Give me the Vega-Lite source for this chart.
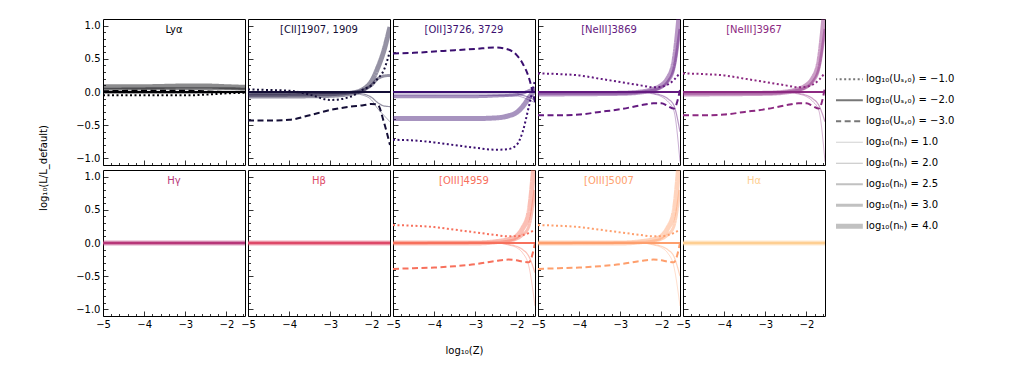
{
"$schema":"https://vega.github.io/schema/vega-lite/v6.json",
"padding":{"left":38,"top":18,"right":5,"bottom":5},
"bounds":"flush",
"columns":5,
"spacing":{"row":5,"column":3},
"config":{
"view":{"stroke":"black","strokeWidth":1},
"axis":{"domain":false,"grid":false,"tickColor":"black","tickWidth":0.8,"labelColor":"black","labelFont":"DejaVu Sans","labelFontSize":10,"titleFont":"DejaVu Sans","titleFontSize":10,"titleFontWeight":"normal","titleColor":"black"},
"axisX":{"labelOverlap":false,"labelFlush":false},
"axisY":{"labelOverlap":false},
"title":{"font":"DejaVu Sans","fontSize":10,"fontWeight":"normal","offset":-16},
"legend":{"orient":"none","legendX":733,"legendY":50,"symbolType":"M-1.35,0H1.35","symbolSize":420,"labelFontSize":10,"labelFont":"DejaVu Sans","labelColor":"black","rowPadding":0,"clipHeight":20.5,"symbolStrokeColor":"#777","labelLimit":250,"padding":0}
},
"datasets":{"d":[
{"p":"Lya","s":"U-2","x":-5,"y":0},{"p":"Lya","s":"U-2","x":-1.55,"y":0},
{"p":"Lya","s":"U-1","x":-5,"y":-0.05},{"p":"Lya","s":"U-1","x":-4,"y":-0.05},{"p":"Lya","s":"U-1","x":-3,"y":-0.05},{"p":"Lya","s":"U-1","x":-2.5,"y":-0.04},{"p":"Lya","s":"U-1","x":-2,"y":-0.02},{"p":"Lya","s":"U-1","x":-1.55,"y":-0.01},
{"p":"Lya","s":"U-3","x":-5,"y":0.01},{"p":"Lya","s":"U-3","x":-4,"y":0.02},{"p":"Lya","s":"U-3","x":-3,"y":0.02},{"p":"Lya","s":"U-3","x":-2.5,"y":0.01},{"p":"Lya","s":"U-3","x":-2,"y":0},{"p":"Lya","s":"U-3","x":-1.55,"y":0},
{"p":"Lya","s":"n1","x":-5,"y":-0.02},{"p":"Lya","s":"n1","x":-3,"y":-0.02},{"p":"Lya","s":"n1","x":-1.55,"y":-0.01},
{"p":"Lya","s":"n2","x":-5,"y":-0.01},{"p":"Lya","s":"n2","x":-3,"y":-0.01},{"p":"Lya","s":"n2","x":-1.55,"y":0},
{"p":"Lya","s":"n2.5","x":-5,"y":0},{"p":"Lya","s":"n2.5","x":-1.55,"y":0},
{"p":"Lya","s":"n3","x":-5,"y":0.04},{"p":"Lya","s":"n3","x":-3,"y":0.05},{"p":"Lya","s":"n3","x":-2,"y":0.05},{"p":"Lya","s":"n3","x":-1.55,"y":0.04},
{"p":"Lya","s":"n4","x":-5,"y":0.08},{"p":"Lya","s":"n4","x":-4,"y":0.08},{"p":"Lya","s":"n4","x":-3,"y":0.09},{"p":"Lya","s":"n4","x":-2.5,"y":0.09},{"p":"Lya","s":"n4","x":-2,"y":0.08},{"p":"Lya","s":"n4","x":-1.55,"y":0.07},

{"p":"CII","s":"U-2","x":-5,"y":0},{"p":"CII","s":"U-2","x":-1.55,"y":0},
{"p":"CII","s":"U-1","x":-5,"y":0.04},{"p":"CII","s":"U-1","x":-4.5,"y":0.03},{"p":"CII","s":"U-1","x":-4,"y":0.02},{"p":"CII","s":"U-1","x":-3.5,"y":-0.04},{"p":"CII","s":"U-1","x":-3,"y":-0.12},{"p":"CII","s":"U-1","x":-2.5,"y":-0.07},{"p":"CII","s":"U-1","x":-2.2,"y":0.04},{"p":"CII","s":"U-1","x":-2,"y":0.1},{"p":"CII","s":"U-1","x":-1.85,"y":0.2},{"p":"CII","s":"U-1","x":-1.7,"y":0.33},{"p":"CII","s":"U-1","x":-1.55,"y":0.62},
{"p":"CII","s":"U-3","x":-5,"y":-0.43},{"p":"CII","s":"U-3","x":-4.5,"y":-0.43},{"p":"CII","s":"U-3","x":-4,"y":-0.42},{"p":"CII","s":"U-3","x":-3.5,"y":-0.35},{"p":"CII","s":"U-3","x":-3,"y":-0.27},{"p":"CII","s":"U-3","x":-2.5,"y":-0.22},{"p":"CII","s":"U-3","x":-2.2,"y":-0.2},{"p":"CII","s":"U-3","x":-2,"y":-0.18},{"p":"CII","s":"U-3","x":-1.85,"y":-0.19},{"p":"CII","s":"U-3","x":-1.7,"y":-0.45},{"p":"CII","s":"U-3","x":-1.55,"y":-0.8},
{"p":"CII","s":"n4","x":-5,"y":-0.06},{"p":"CII","s":"n4","x":-4,"y":-0.06},{"p":"CII","s":"n4","x":-3,"y":-0.05},{"p":"CII","s":"n4","x":-2.5,"y":-0.02},{"p":"CII","s":"n4","x":-2.2,"y":0.04},{"p":"CII","s":"n4","x":-2,"y":0.16},{"p":"CII","s":"n4","x":-1.85,"y":0.36},{"p":"CII","s":"n4","x":-1.7,"y":0.62},{"p":"CII","s":"n4","x":-1.55,"y":0.98},
{"p":"CII","s":"n3","x":-5,"y":-0.05},{"p":"CII","s":"n3","x":-3,"y":-0.04},{"p":"CII","s":"n3","x":-2.5,"y":-0.01},{"p":"CII","s":"n3","x":-2.2,"y":0.03},{"p":"CII","s":"n3","x":-2,"y":0.1},{"p":"CII","s":"n3","x":-1.85,"y":0.2},{"p":"CII","s":"n3","x":-1.7,"y":0.24},{"p":"CII","s":"n3","x":-1.55,"y":0.25},
{"p":"CII","s":"n2.5","x":-5,"y":0},{"p":"CII","s":"n2.5","x":-1.55,"y":0},
{"p":"CII","s":"n2","x":-5,"y":-0.03},{"p":"CII","s":"n2","x":-3,"y":-0.02},{"p":"CII","s":"n2","x":-2.5,"y":-0.01},{"p":"CII","s":"n2","x":-2.2,"y":-0.03},{"p":"CII","s":"n2","x":-2,"y":-0.08},{"p":"CII","s":"n2","x":-1.85,"y":-0.16},{"p":"CII","s":"n2","x":-1.7,"y":-0.21},{"p":"CII","s":"n2","x":-1.55,"y":-0.22},
{"p":"CII","s":"n1","x":-5,"y":-0.02},{"p":"CII","s":"n1","x":-3,"y":-0.02},{"p":"CII","s":"n1","x":-2.5,"y":-0.02},{"p":"CII","s":"n1","x":-2.2,"y":-0.05},{"p":"CII","s":"n1","x":-2,"y":-0.12},{"p":"CII","s":"n1","x":-1.85,"y":-0.25},{"p":"CII","s":"n1","x":-1.7,"y":-0.35},{"p":"CII","s":"n1","x":-1.55,"y":-0.45},

{"p":"OII","s":"U-2","x":-5,"y":0},{"p":"OII","s":"U-2","x":-1.55,"y":0},
{"p":"OII","s":"U-3","x":-5,"y":0.58},{"p":"OII","s":"U-3","x":-4.5,"y":0.59},{"p":"OII","s":"U-3","x":-4,"y":0.61},{"p":"OII","s":"U-3","x":-3.5,"y":0.63},{"p":"OII","s":"U-3","x":-3,"y":0.65},{"p":"OII","s":"U-3","x":-2.5,"y":0.67},{"p":"OII","s":"U-3","x":-2.2,"y":0.64},{"p":"OII","s":"U-3","x":-2,"y":0.56},{"p":"OII","s":"U-3","x":-1.85,"y":0.43},{"p":"OII","s":"U-3","x":-1.7,"y":0.22},{"p":"OII","s":"U-3","x":-1.55,"y":-0.15},
{"p":"OII","s":"U-1","x":-5,"y":-0.72},{"p":"OII","s":"U-1","x":-4.5,"y":-0.73},{"p":"OII","s":"U-1","x":-4,"y":-0.76},{"p":"OII","s":"U-1","x":-3.5,"y":-0.8},{"p":"OII","s":"U-1","x":-3,"y":-0.84},{"p":"OII","s":"U-1","x":-2.5,"y":-0.87},{"p":"OII","s":"U-1","x":-2.2,"y":-0.86},{"p":"OII","s":"U-1","x":-2,"y":-0.8},{"p":"OII","s":"U-1","x":-1.85,"y":-0.6},{"p":"OII","s":"U-1","x":-1.7,"y":-0.22},{"p":"OII","s":"U-1","x":-1.55,"y":0.18},
{"p":"OII","s":"n4","x":-5,"y":-0.4},{"p":"OII","s":"n4","x":-3,"y":-0.4},{"p":"OII","s":"n4","x":-2.5,"y":-0.39},{"p":"OII","s":"n4","x":-2.2,"y":-0.36},{"p":"OII","s":"n4","x":-2,"y":-0.31},{"p":"OII","s":"n4","x":-1.85,"y":-0.22},{"p":"OII","s":"n4","x":-1.7,"y":-0.09},{"p":"OII","s":"n4","x":-1.55,"y":0.03},
{"p":"OII","s":"n3","x":-5,"y":-0.07},{"p":"OII","s":"n3","x":-3,"y":-0.07},{"p":"OII","s":"n3","x":-2.5,"y":-0.06},{"p":"OII","s":"n3","x":-2,"y":-0.04},{"p":"OII","s":"n3","x":-1.85,"y":-0.02},{"p":"OII","s":"n3","x":-1.7,"y":0.02},{"p":"OII","s":"n3","x":-1.55,"y":0.05},
{"p":"OII","s":"n2.5","x":-5,"y":0},{"p":"OII","s":"n2.5","x":-1.55,"y":0},
{"p":"OII","s":"n2","x":-5,"y":-0.03},{"p":"OII","s":"n2","x":-3,"y":-0.03},{"p":"OII","s":"n2","x":-2,"y":-0.03},{"p":"OII","s":"n2","x":-1.85,"y":-0.05},{"p":"OII","s":"n2","x":-1.7,"y":-0.08},{"p":"OII","s":"n2","x":-1.55,"y":-0.12},
{"p":"OII","s":"n1","x":-5,"y":-0.05},{"p":"OII","s":"n1","x":-3,"y":-0.05},{"p":"OII","s":"n1","x":-2,"y":-0.06},{"p":"OII","s":"n1","x":-1.85,"y":-0.08},{"p":"OII","s":"n1","x":-1.7,"y":-0.12},{"p":"OII","s":"n1","x":-1.55,"y":-0.16},

{"p":"Ne1","s":"U-2","x":-5,"y":0},{"p":"Ne1","s":"U-2","x":-1.55,"y":0},
{"p":"Ne1","s":"U-1","x":-5,"y":0.28},{"p":"Ne1","s":"U-1","x":-4.5,"y":0.27},{"p":"Ne1","s":"U-1","x":-4,"y":0.25},{"p":"Ne1","s":"U-1","x":-3.5,"y":0.2},{"p":"Ne1","s":"U-1","x":-3,"y":0.15},{"p":"Ne1","s":"U-1","x":-2.5,"y":0.1},{"p":"Ne1","s":"U-1","x":-2.2,"y":0.07},{"p":"Ne1","s":"U-1","x":-2,"y":0.08},{"p":"Ne1","s":"U-1","x":-1.85,"y":0.11},{"p":"Ne1","s":"U-1","x":-1.7,"y":0.18},{"p":"Ne1","s":"U-1","x":-1.55,"y":0.29},
{"p":"Ne1","s":"U-3","x":-5,"y":-0.35},{"p":"Ne1","s":"U-3","x":-4.5,"y":-0.35},{"p":"Ne1","s":"U-3","x":-4,"y":-0.34},{"p":"Ne1","s":"U-3","x":-3.5,"y":-0.3},{"p":"Ne1","s":"U-3","x":-3,"y":-0.26},{"p":"Ne1","s":"U-3","x":-2.5,"y":-0.2},{"p":"Ne1","s":"U-3","x":-2.2,"y":-0.17},{"p":"Ne1","s":"U-3","x":-2,"y":-0.17},{"p":"Ne1","s":"U-3","x":-1.85,"y":-0.21},{"p":"Ne1","s":"U-3","x":-1.7,"y":-0.25},{"p":"Ne1","s":"U-3","x":-1.55,"y":0.03},
{"p":"Ne1","s":"n4","x":-5,"y":-0.03},{"p":"Ne1","s":"n4","x":-3,"y":-0.02},{"p":"Ne1","s":"n4","x":-2.5,"y":0},{"p":"Ne1","s":"n4","x":-2.2,"y":0.04},{"p":"Ne1","s":"n4","x":-2,"y":0.1},{"p":"Ne1","s":"n4","x":-1.85,"y":0.2},{"p":"Ne1","s":"n4","x":-1.7,"y":0.45},{"p":"Ne1","s":"n4","x":-1.55,"y":1.3},
{"p":"Ne1","s":"n3","x":-5,"y":-0.02},{"p":"Ne1","s":"n3","x":-3,"y":-0.02},{"p":"Ne1","s":"n3","x":-2.5,"y":0},{"p":"Ne1","s":"n3","x":-2.2,"y":0.03},{"p":"Ne1","s":"n3","x":-2,"y":0.07},{"p":"Ne1","s":"n3","x":-1.85,"y":0.15},{"p":"Ne1","s":"n3","x":-1.7,"y":0.35},{"p":"Ne1","s":"n3","x":-1.55,"y":0.95},
{"p":"Ne1","s":"n2.5","x":-5,"y":0},{"p":"Ne1","s":"n2.5","x":-1.55,"y":0},
{"p":"Ne1","s":"n2","x":-5,"y":0},{"p":"Ne1","s":"n2","x":-2.5,"y":0},{"p":"Ne1","s":"n2","x":-2.2,"y":-0.02},{"p":"Ne1","s":"n2","x":-2,"y":-0.05},{"p":"Ne1","s":"n2","x":-1.85,"y":-0.1},{"p":"Ne1","s":"n2","x":-1.7,"y":-0.2},{"p":"Ne1","s":"n2","x":-1.55,"y":-0.6},
{"p":"Ne1","s":"n1","x":-5,"y":0},{"p":"Ne1","s":"n1","x":-2.5,"y":-0.01},{"p":"Ne1","s":"n1","x":-2.2,"y":-0.03},{"p":"Ne1","s":"n1","x":-2,"y":-0.07},{"p":"Ne1","s":"n1","x":-1.85,"y":-0.14},{"p":"Ne1","s":"n1","x":-1.7,"y":-0.28},{"p":"Ne1","s":"n1","x":-1.55,"y":-1.05},

{"p":"Ne2","s":"U-2","x":-5,"y":0},{"p":"Ne2","s":"U-2","x":-1.55,"y":0},
{"p":"Ne2","s":"U-1","x":-5,"y":0.28},{"p":"Ne2","s":"U-1","x":-4.5,"y":0.27},{"p":"Ne2","s":"U-1","x":-4,"y":0.25},{"p":"Ne2","s":"U-1","x":-3.5,"y":0.2},{"p":"Ne2","s":"U-1","x":-3,"y":0.15},{"p":"Ne2","s":"U-1","x":-2.5,"y":0.1},{"p":"Ne2","s":"U-1","x":-2.2,"y":0.07},{"p":"Ne2","s":"U-1","x":-2,"y":0.08},{"p":"Ne2","s":"U-1","x":-1.85,"y":0.11},{"p":"Ne2","s":"U-1","x":-1.7,"y":0.18},{"p":"Ne2","s":"U-1","x":-1.55,"y":0.29},
{"p":"Ne2","s":"U-3","x":-5,"y":-0.35},{"p":"Ne2","s":"U-3","x":-4.5,"y":-0.35},{"p":"Ne2","s":"U-3","x":-4,"y":-0.34},{"p":"Ne2","s":"U-3","x":-3.5,"y":-0.3},{"p":"Ne2","s":"U-3","x":-3,"y":-0.26},{"p":"Ne2","s":"U-3","x":-2.5,"y":-0.2},{"p":"Ne2","s":"U-3","x":-2.2,"y":-0.17},{"p":"Ne2","s":"U-3","x":-2,"y":-0.17},{"p":"Ne2","s":"U-3","x":-1.85,"y":-0.21},{"p":"Ne2","s":"U-3","x":-1.7,"y":-0.25},{"p":"Ne2","s":"U-3","x":-1.55,"y":0.07},
{"p":"Ne2","s":"n4","x":-5,"y":-0.03},{"p":"Ne2","s":"n4","x":-3,"y":-0.02},{"p":"Ne2","s":"n4","x":-2.5,"y":0},{"p":"Ne2","s":"n4","x":-2.2,"y":0.04},{"p":"Ne2","s":"n4","x":-2,"y":0.1},{"p":"Ne2","s":"n4","x":-1.85,"y":0.2},{"p":"Ne2","s":"n4","x":-1.7,"y":0.45},{"p":"Ne2","s":"n4","x":-1.55,"y":1.3},
{"p":"Ne2","s":"n3","x":-5,"y":-0.02},{"p":"Ne2","s":"n3","x":-3,"y":-0.02},{"p":"Ne2","s":"n3","x":-2.5,"y":0},{"p":"Ne2","s":"n3","x":-2.2,"y":0.03},{"p":"Ne2","s":"n3","x":-2,"y":0.07},{"p":"Ne2","s":"n3","x":-1.85,"y":0.15},{"p":"Ne2","s":"n3","x":-1.7,"y":0.35},{"p":"Ne2","s":"n3","x":-1.55,"y":0.95},
{"p":"Ne2","s":"n2.5","x":-5,"y":0},{"p":"Ne2","s":"n2.5","x":-1.55,"y":0},
{"p":"Ne2","s":"n2","x":-5,"y":0},{"p":"Ne2","s":"n2","x":-2.5,"y":0},{"p":"Ne2","s":"n2","x":-2.2,"y":-0.02},{"p":"Ne2","s":"n2","x":-2,"y":-0.05},{"p":"Ne2","s":"n2","x":-1.85,"y":-0.1},{"p":"Ne2","s":"n2","x":-1.7,"y":-0.2},{"p":"Ne2","s":"n2","x":-1.55,"y":-0.45},
{"p":"Ne2","s":"n1","x":-5,"y":0},{"p":"Ne2","s":"n1","x":-2.5,"y":-0.01},{"p":"Ne2","s":"n1","x":-2.2,"y":-0.03},{"p":"Ne2","s":"n1","x":-2,"y":-0.07},{"p":"Ne2","s":"n1","x":-1.85,"y":-0.14},{"p":"Ne2","s":"n1","x":-1.7,"y":-0.28},{"p":"Ne2","s":"n1","x":-1.55,"y":-1.05},

{"p":"Hg","s":"U-1","x":-5,"y":0},{"p":"Hg","s":"U-1","x":-1.55,"y":0},{"p":"Hg","s":"U-2","x":-5,"y":0},{"p":"Hg","s":"U-2","x":-1.55,"y":0},{"p":"Hg","s":"U-3","x":-5,"y":0},{"p":"Hg","s":"U-3","x":-1.55,"y":0},
{"p":"Hg","s":"n1","x":-5,"y":0},{"p":"Hg","s":"n1","x":-1.55,"y":0},{"p":"Hg","s":"n2","x":-5,"y":0},{"p":"Hg","s":"n2","x":-1.55,"y":0},{"p":"Hg","s":"n2.5","x":-5,"y":0},{"p":"Hg","s":"n2.5","x":-1.55,"y":0},{"p":"Hg","s":"n3","x":-5,"y":0},{"p":"Hg","s":"n3","x":-1.55,"y":0},{"p":"Hg","s":"n4","x":-5,"y":0},{"p":"Hg","s":"n4","x":-1.55,"y":0},

{"p":"Hb","s":"U-1","x":-5,"y":0},{"p":"Hb","s":"U-1","x":-1.55,"y":0},{"p":"Hb","s":"U-2","x":-5,"y":0},{"p":"Hb","s":"U-2","x":-1.55,"y":0},{"p":"Hb","s":"U-3","x":-5,"y":0},{"p":"Hb","s":"U-3","x":-1.55,"y":0},
{"p":"Hb","s":"n1","x":-5,"y":0},{"p":"Hb","s":"n1","x":-1.55,"y":0},{"p":"Hb","s":"n2","x":-5,"y":0},{"p":"Hb","s":"n2","x":-1.55,"y":0},{"p":"Hb","s":"n2.5","x":-5,"y":0},{"p":"Hb","s":"n2.5","x":-1.55,"y":0},{"p":"Hb","s":"n3","x":-5,"y":0},{"p":"Hb","s":"n3","x":-1.55,"y":0},{"p":"Hb","s":"n4","x":-5,"y":0},{"p":"Hb","s":"n4","x":-1.55,"y":0},

{"p":"O1","s":"U-2","x":-5,"y":0},{"p":"O1","s":"U-2","x":-1.55,"y":0},
{"p":"O1","s":"U-1","x":-5,"y":0.27},{"p":"O1","s":"U-1","x":-4.5,"y":0.26},{"p":"O1","s":"U-1","x":-4,"y":0.24},{"p":"O1","s":"U-1","x":-3.5,"y":0.2},{"p":"O1","s":"U-1","x":-3,"y":0.16},{"p":"O1","s":"U-1","x":-2.5,"y":0.12},{"p":"O1","s":"U-1","x":-2.2,"y":0.1},{"p":"O1","s":"U-1","x":-2,"y":0.1},{"p":"O1","s":"U-1","x":-1.85,"y":0.12},{"p":"O1","s":"U-1","x":-1.7,"y":0.15},{"p":"O1","s":"U-1","x":-1.55,"y":0.2},
{"p":"O1","s":"U-3","x":-5,"y":-0.39},{"p":"O1","s":"U-3","x":-4.5,"y":-0.38},{"p":"O1","s":"U-3","x":-4,"y":-0.37},{"p":"O1","s":"U-3","x":-3.5,"y":-0.35},{"p":"O1","s":"U-3","x":-3,"y":-0.32},{"p":"O1","s":"U-3","x":-2.5,"y":-0.27},{"p":"O1","s":"U-3","x":-2.2,"y":-0.25},{"p":"O1","s":"U-3","x":-2,"y":-0.26},{"p":"O1","s":"U-3","x":-1.85,"y":-0.28},{"p":"O1","s":"U-3","x":-1.7,"y":-0.29},{"p":"O1","s":"U-3","x":-1.55,"y":0},
{"p":"O1","s":"n4","x":-5,"y":0},{"p":"O1","s":"n4","x":-3,"y":0},{"p":"O1","s":"n4","x":-2.5,"y":0.02},{"p":"O1","s":"n4","x":-2.2,"y":0.05},{"p":"O1","s":"n4","x":-2,"y":0.1},{"p":"O1","s":"n4","x":-1.85,"y":0.22},{"p":"O1","s":"n4","x":-1.7,"y":0.45},{"p":"O1","s":"n4","x":-1.55,"y":1.4},
{"p":"O1","s":"n3","x":-5,"y":0},{"p":"O1","s":"n3","x":-2.5,"y":0.01},{"p":"O1","s":"n3","x":-2.2,"y":0.03},{"p":"O1","s":"n3","x":-2,"y":0.06},{"p":"O1","s":"n3","x":-1.85,"y":0.12},{"p":"O1","s":"n3","x":-1.7,"y":0.25},{"p":"O1","s":"n3","x":-1.55,"y":0.8},
{"p":"O1","s":"n2.5","x":-5,"y":0},{"p":"O1","s":"n2.5","x":-1.55,"y":0},
{"p":"O1","s":"n2","x":-5,"y":0},{"p":"O1","s":"n2","x":-2.5,"y":0},{"p":"O1","s":"n2","x":-2.2,"y":-0.02},{"p":"O1","s":"n2","x":-2,"y":-0.05},{"p":"O1","s":"n2","x":-1.85,"y":-0.1},{"p":"O1","s":"n2","x":-1.7,"y":-0.2},{"p":"O1","s":"n2","x":-1.55,"y":-0.45},
{"p":"O1","s":"n1","x":-5,"y":0},{"p":"O1","s":"n1","x":-2.5,"y":0},{"p":"O1","s":"n1","x":-2.2,"y":-0.03},{"p":"O1","s":"n1","x":-2,"y":-0.07},{"p":"O1","s":"n1","x":-1.85,"y":-0.15},{"p":"O1","s":"n1","x":-1.7,"y":-0.35},{"p":"O1","s":"n1","x":-1.55,"y":-0.95},

{"p":"O2","s":"U-2","x":-5,"y":0},{"p":"O2","s":"U-2","x":-1.55,"y":0},
{"p":"O2","s":"U-1","x":-5,"y":0.27},{"p":"O2","s":"U-1","x":-4.5,"y":0.26},{"p":"O2","s":"U-1","x":-4,"y":0.24},{"p":"O2","s":"U-1","x":-3.5,"y":0.2},{"p":"O2","s":"U-1","x":-3,"y":0.16},{"p":"O2","s":"U-1","x":-2.5,"y":0.12},{"p":"O2","s":"U-1","x":-2.2,"y":0.1},{"p":"O2","s":"U-1","x":-2,"y":0.1},{"p":"O2","s":"U-1","x":-1.85,"y":0.12},{"p":"O2","s":"U-1","x":-1.7,"y":0.15},{"p":"O2","s":"U-1","x":-1.55,"y":0.2},
{"p":"O2","s":"U-3","x":-5,"y":-0.39},{"p":"O2","s":"U-3","x":-4.5,"y":-0.38},{"p":"O2","s":"U-3","x":-4,"y":-0.37},{"p":"O2","s":"U-3","x":-3.5,"y":-0.35},{"p":"O2","s":"U-3","x":-3,"y":-0.32},{"p":"O2","s":"U-3","x":-2.5,"y":-0.27},{"p":"O2","s":"U-3","x":-2.2,"y":-0.25},{"p":"O2","s":"U-3","x":-2,"y":-0.26},{"p":"O2","s":"U-3","x":-1.85,"y":-0.28},{"p":"O2","s":"U-3","x":-1.7,"y":-0.29},{"p":"O2","s":"U-3","x":-1.55,"y":0},
{"p":"O2","s":"n4","x":-5,"y":0},{"p":"O2","s":"n4","x":-3,"y":0},{"p":"O2","s":"n4","x":-2.5,"y":0.02},{"p":"O2","s":"n4","x":-2.2,"y":0.05},{"p":"O2","s":"n4","x":-2,"y":0.1},{"p":"O2","s":"n4","x":-1.85,"y":0.22},{"p":"O2","s":"n4","x":-1.7,"y":0.45},{"p":"O2","s":"n4","x":-1.55,"y":1.4},
{"p":"O2","s":"n3","x":-5,"y":0},{"p":"O2","s":"n3","x":-2.5,"y":0.01},{"p":"O2","s":"n3","x":-2.2,"y":0.03},{"p":"O2","s":"n3","x":-2,"y":0.06},{"p":"O2","s":"n3","x":-1.85,"y":0.12},{"p":"O2","s":"n3","x":-1.7,"y":0.25},{"p":"O2","s":"n3","x":-1.55,"y":0.8},
{"p":"O2","s":"n2.5","x":-5,"y":0},{"p":"O2","s":"n2.5","x":-1.55,"y":0},
{"p":"O2","s":"n2","x":-5,"y":0},{"p":"O2","s":"n2","x":-2.5,"y":0},{"p":"O2","s":"n2","x":-2.2,"y":-0.02},{"p":"O2","s":"n2","x":-2,"y":-0.05},{"p":"O2","s":"n2","x":-1.85,"y":-0.1},{"p":"O2","s":"n2","x":-1.7,"y":-0.2},{"p":"O2","s":"n2","x":-1.55,"y":-0.5},
{"p":"O2","s":"n1","x":-5,"y":0},{"p":"O2","s":"n1","x":-2.5,"y":0},{"p":"O2","s":"n1","x":-2.2,"y":-0.03},{"p":"O2","s":"n1","x":-2,"y":-0.07},{"p":"O2","s":"n1","x":-1.85,"y":-0.15},{"p":"O2","s":"n1","x":-1.7,"y":-0.35},{"p":"O2","s":"n1","x":-1.55,"y":-0.95},

{"p":"Ha","s":"U-1","x":-5,"y":0},{"p":"Ha","s":"U-1","x":-1.55,"y":0},{"p":"Ha","s":"U-2","x":-5,"y":0},{"p":"Ha","s":"U-2","x":-1.55,"y":0},{"p":"Ha","s":"U-3","x":-5,"y":0},{"p":"Ha","s":"U-3","x":-1.55,"y":0},
{"p":"Ha","s":"n1","x":-5,"y":0},{"p":"Ha","s":"n1","x":-1.55,"y":0},{"p":"Ha","s":"n2","x":-5,"y":0},{"p":"Ha","s":"n2","x":-1.55,"y":0},{"p":"Ha","s":"n2.5","x":-5,"y":0},{"p":"Ha","s":"n2.5","x":-1.55,"y":0},{"p":"Ha","s":"n3","x":-5,"y":0},{"p":"Ha","s":"n3","x":-1.55,"y":0},{"p":"Ha","s":"n4","x":-5,"y":0},{"p":"Ha","s":"n4","x":-1.55,"y":0}
]},
"concat":[
{"width":142,"height":146,"data":{"name":"d"},"title":{"text":"Lyα","color":"#000004"},
"encoding":{
"x":{"field":"x","type":"quantitative","scale":{"domain":[-5,-1.55],"nice":false,"zero":false},"axis":{"values":[-5,-4.8,-4.6,-4.4,-4.2,-4,-3.8,-3.6,-3.4,-3.2,-3,-2.8,-2.6,-2.4,-2.2,-2,-1.8,-1.6],"labels":false,"tickSize":{"condition":{"test":"abs(datum.value-round(datum.value))<0.001","value":-5},"value":-2.5},"title":null}},
"y":{"field":"y","type":"quantitative","scale":{"domain":[-1.1,1.1],"nice":false,"zero":false},"axis":{"values":[-1,-0.9,-0.8,-0.7,-0.6,-0.5,-0.4,-0.3,-0.2,-0.1,0,0.1,0.2,0.3,0.4,0.5,0.6,0.7,0.8,0.9,1],"format":".1f","labelOverlap":false,"labelExpr":"abs(datum.value*2-round(datum.value*2))<0.001 ? datum.label : ''","tickSize":{"condition":{"test":"abs(datum.value*2-round(datum.value*2))<0.001","value":-5},"value":-2.5},"labelPadding":8,"title":"log₁₀(L/L_default)","titleY":148.5,"titlePadding":27}},
"strokeDash":{"field":"s","type":"nominal","scale":{"domain":["U-1","U-2","U-3","n1","n2","n2.5","n3","n4"],"range":[[2,2.5],[1,0],[6,3.5],[1,0],[1,0],[1,0],[1,0],[1,0]]},"legend":{"title":null,"symbolStrokeColor":"#777","labelExpr":"datum.label==='U-1'?'log₁₀(Uₛ,₀) = −1.0':datum.label==='U-2'?'log₁₀(Uₛ,₀) = −2.0':datum.label==='U-3'?'log₁₀(Uₛ,₀) = −3.0':datum.label==='n1'?'log₁₀(nₕ) = 1.0':datum.label==='n2'?'log₁₀(nₕ) = 2.0':datum.label==='n2.5'?'log₁₀(nₕ) = 2.5':datum.label==='n3'?'log₁₀(nₕ) = 3.0':'log₁₀(nₕ) = 4.0'"}},
"strokeWidth":{"field":"s","type":"nominal","scale":{"type":"ordinal","domain":["U-1","U-2","U-3","n1","n2","n2.5","n3","n4"],"range":[2,1.8,2,0.8,1.2,1.8,3,5]},"legend":{"title":null,"symbolStrokeColor":"#777","labelExpr":"datum.label==='U-1'?'log₁₀(Uₛ,₀) = −1.0':datum.label==='U-2'?'log₁₀(Uₛ,₀) = −2.0':datum.label==='U-3'?'log₁₀(Uₛ,₀) = −3.0':datum.label==='n1'?'log₁₀(nₕ) = 1.0':datum.label==='n2'?'log₁₀(nₕ) = 2.0':datum.label==='n2.5'?'log₁₀(nₕ) = 2.5':datum.label==='n3'?'log₁₀(nₕ) = 3.0':'log₁₀(nₕ) = 4.0'"}},
"opacity":{"field":"s","type":"nominal","scale":{"type":"ordinal","domain":["U-1","U-2","U-3","n1","n2","n2.5","n3","n4"],"range":[1,1,1,0.45,0.45,0.45,0.45,0.45]},"legend":{"title":null,"symbolStrokeColor":"#777","labelExpr":"datum.label==='U-1'?'log₁₀(Uₛ,₀) = −1.0':datum.label==='U-2'?'log₁₀(Uₛ,₀) = −2.0':datum.label==='U-3'?'log₁₀(Uₛ,₀) = −3.0':datum.label==='n1'?'log₁₀(nₕ) = 1.0':datum.label==='n2'?'log₁₀(nₕ) = 2.0':datum.label==='n2.5'?'log₁₀(nₕ) = 2.5':datum.label==='n3'?'log₁₀(nₕ) = 3.0':'log₁₀(nₕ) = 4.0'"}}
},
"layer":[
{"transform":[{"filter":"datum.p==='Lya' && datum.s[0]==='n'"}],"mark":{"type":"line","color":"#000004","clip":true,"interpolate":"monotone"}},
{"transform":[{"filter":"datum.p==='Lya' && datum.s[0]==='U'"}],"mark":{"type":"line","color":"#000004","clip":true,"interpolate":"monotone"}}
]},
{"width":142,"height":146,"data":{"name":"d"},"title":{"text":"[CII]1907, 1909","color":"#140e36"},
"encoding":{
"x":{"field":"x","type":"quantitative","scale":{"domain":[-5,-1.55],"nice":false,"zero":false},"axis":{"values":[-5,-4.8,-4.6,-4.4,-4.2,-4,-3.8,-3.6,-3.4,-3.2,-3,-2.8,-2.6,-2.4,-2.2,-2,-1.8,-1.6],"labels":false,"tickSize":{"condition":{"test":"abs(datum.value-round(datum.value))<0.001","value":-5},"value":-2.5},"title":null}},
"y":{"field":"y","type":"quantitative","scale":{"domain":[-1.1,1.1],"nice":false,"zero":false},"axis":{"values":[-1,-0.9,-0.8,-0.7,-0.6,-0.5,-0.4,-0.3,-0.2,-0.1,0,0.1,0.2,0.3,0.4,0.5,0.6,0.7,0.8,0.9,1],"labels":false,"tickSize":{"condition":{"test":"abs(datum.value*2-round(datum.value*2))<0.001","value":-5},"value":-2.5},"title":null}},
"strokeDash":{"field":"s","type":"nominal","scale":{"domain":["U-1","U-2","U-3","n1","n2","n2.5","n3","n4"],"range":[[2,2.5],[1,0],[6,3.5],[1,0],[1,0],[1,0],[1,0],[1,0]]},"legend":null},
"strokeWidth":{"field":"s","type":"nominal","scale":{"type":"ordinal","domain":["U-1","U-2","U-3","n1","n2","n2.5","n3","n4"],"range":[2,1.8,2,0.8,1.2,1.8,3,5]},"legend":null},
"opacity":{"field":"s","type":"nominal","scale":{"type":"ordinal","domain":["U-1","U-2","U-3","n1","n2","n2.5","n3","n4"],"range":[1,1,1,0.45,0.45,0.45,0.45,0.45]},"legend":null}
},
"layer":[
{"transform":[{"filter":"datum.p==='CII' && datum.s[0]==='n'"}],"mark":{"type":"line","color":"#140e36","clip":true,"interpolate":"monotone"}},
{"transform":[{"filter":"datum.p==='CII' && datum.s[0]==='U'"}],"mark":{"type":"line","color":"#140e36","clip":true,"interpolate":"monotone"}}
]},
{"width":142,"height":146,"data":{"name":"d"},"title":{"text":"[OII]3726, 3729","color":"#3b0f70"},
"encoding":{
"x":{"field":"x","type":"quantitative","scale":{"domain":[-5,-1.55],"nice":false,"zero":false},"axis":{"values":[-5,-4.8,-4.6,-4.4,-4.2,-4,-3.8,-3.6,-3.4,-3.2,-3,-2.8,-2.6,-2.4,-2.2,-2,-1.8,-1.6],"labels":false,"tickSize":{"condition":{"test":"abs(datum.value-round(datum.value))<0.001","value":-5},"value":-2.5},"title":null}},
"y":{"field":"y","type":"quantitative","scale":{"domain":[-1.1,1.1],"nice":false,"zero":false},"axis":{"values":[-1,-0.9,-0.8,-0.7,-0.6,-0.5,-0.4,-0.3,-0.2,-0.1,0,0.1,0.2,0.3,0.4,0.5,0.6,0.7,0.8,0.9,1],"labels":false,"tickSize":{"condition":{"test":"abs(datum.value*2-round(datum.value*2))<0.001","value":-5},"value":-2.5},"title":null}},
"strokeDash":{"field":"s","type":"nominal","scale":{"domain":["U-1","U-2","U-3","n1","n2","n2.5","n3","n4"],"range":[[2,2.5],[1,0],[6,3.5],[1,0],[1,0],[1,0],[1,0],[1,0]]},"legend":null},
"strokeWidth":{"field":"s","type":"nominal","scale":{"type":"ordinal","domain":["U-1","U-2","U-3","n1","n2","n2.5","n3","n4"],"range":[2,1.8,2,0.8,1.2,1.8,3,5]},"legend":null},
"opacity":{"field":"s","type":"nominal","scale":{"type":"ordinal","domain":["U-1","U-2","U-3","n1","n2","n2.5","n3","n4"],"range":[1,1,1,0.45,0.45,0.45,0.45,0.45]},"legend":null}
},
"layer":[
{"transform":[{"filter":"datum.p==='OII' && datum.s[0]==='n'"}],"mark":{"type":"line","color":"#3b0f70","clip":true,"interpolate":"monotone"}},
{"transform":[{"filter":"datum.p==='OII' && datum.s[0]==='U'"}],"mark":{"type":"line","color":"#3b0f70","clip":true,"interpolate":"monotone"}}
]},
{"width":142,"height":146,"data":{"name":"d"},"title":{"text":"[NeIII]3869","color":"#641a80"},
"encoding":{
"x":{"field":"x","type":"quantitative","scale":{"domain":[-5,-1.55],"nice":false,"zero":false},"axis":{"values":[-5,-4.8,-4.6,-4.4,-4.2,-4,-3.8,-3.6,-3.4,-3.2,-3,-2.8,-2.6,-2.4,-2.2,-2,-1.8,-1.6],"labels":false,"tickSize":{"condition":{"test":"abs(datum.value-round(datum.value))<0.001","value":-5},"value":-2.5},"title":null}},
"y":{"field":"y","type":"quantitative","scale":{"domain":[-1.1,1.1],"nice":false,"zero":false},"axis":{"values":[-1,-0.9,-0.8,-0.7,-0.6,-0.5,-0.4,-0.3,-0.2,-0.1,0,0.1,0.2,0.3,0.4,0.5,0.6,0.7,0.8,0.9,1],"labels":false,"tickSize":{"condition":{"test":"abs(datum.value*2-round(datum.value*2))<0.001","value":-5},"value":-2.5},"title":null}},
"strokeDash":{"field":"s","type":"nominal","scale":{"domain":["U-1","U-2","U-3","n1","n2","n2.5","n3","n4"],"range":[[2,2.5],[1,0],[6,3.5],[1,0],[1,0],[1,0],[1,0],[1,0]]},"legend":null},
"strokeWidth":{"field":"s","type":"nominal","scale":{"type":"ordinal","domain":["U-1","U-2","U-3","n1","n2","n2.5","n3","n4"],"range":[2,1.8,2,0.8,1.2,1.8,3,5]},"legend":null},
"opacity":{"field":"s","type":"nominal","scale":{"type":"ordinal","domain":["U-1","U-2","U-3","n1","n2","n2.5","n3","n4"],"range":[1,1,1,0.45,0.45,0.45,0.45,0.45]},"legend":null}
},
"layer":[
{"transform":[{"filter":"datum.p==='Ne1' && datum.s[0]==='n'"}],"mark":{"type":"line","color":"#641a80","clip":true,"interpolate":"monotone"}},
{"transform":[{"filter":"datum.p==='Ne1' && datum.s[0]==='U'"}],"mark":{"type":"line","color":"#641a80","clip":true,"interpolate":"monotone"}}
]},
{"width":142,"height":146,"data":{"name":"d"},"title":{"text":"[NeIII]3967","color":"#8c2981"},
"encoding":{
"x":{"field":"x","type":"quantitative","scale":{"domain":[-5,-1.55],"nice":false,"zero":false},"axis":{"values":[-5,-4.8,-4.6,-4.4,-4.2,-4,-3.8,-3.6,-3.4,-3.2,-3,-2.8,-2.6,-2.4,-2.2,-2,-1.8,-1.6],"labels":false,"tickSize":{"condition":{"test":"abs(datum.value-round(datum.value))<0.001","value":-5},"value":-2.5},"title":null}},
"y":{"field":"y","type":"quantitative","scale":{"domain":[-1.1,1.1],"nice":false,"zero":false},"axis":{"values":[-1,-0.9,-0.8,-0.7,-0.6,-0.5,-0.4,-0.3,-0.2,-0.1,0,0.1,0.2,0.3,0.4,0.5,0.6,0.7,0.8,0.9,1],"labels":false,"tickSize":{"condition":{"test":"abs(datum.value*2-round(datum.value*2))<0.001","value":-5},"value":-2.5},"title":null}},
"strokeDash":{"field":"s","type":"nominal","scale":{"domain":["U-1","U-2","U-3","n1","n2","n2.5","n3","n4"],"range":[[2,2.5],[1,0],[6,3.5],[1,0],[1,0],[1,0],[1,0],[1,0]]},"legend":null},
"strokeWidth":{"field":"s","type":"nominal","scale":{"type":"ordinal","domain":["U-1","U-2","U-3","n1","n2","n2.5","n3","n4"],"range":[2,1.8,2,0.8,1.2,1.8,3,5]},"legend":null},
"opacity":{"field":"s","type":"nominal","scale":{"type":"ordinal","domain":["U-1","U-2","U-3","n1","n2","n2.5","n3","n4"],"range":[1,1,1,0.45,0.45,0.45,0.45,0.45]},"legend":null}
},
"layer":[
{"transform":[{"filter":"datum.p==='Ne2' && datum.s[0]==='n'"}],"mark":{"type":"line","color":"#8c2981","clip":true,"interpolate":"monotone"}},
{"transform":[{"filter":"datum.p==='Ne2' && datum.s[0]==='U'"}],"mark":{"type":"line","color":"#8c2981","clip":true,"interpolate":"monotone"}}
]},
{"width":142,"height":146,"data":{"name":"d"},"title":{"text":"Hγ","color":"#b73779"},
"encoding":{
"x":{"field":"x","type":"quantitative","scale":{"domain":[-5,-1.55],"nice":false,"zero":false},"axis":{"values":[-5,-4.8,-4.6,-4.4,-4.2,-4,-3.8,-3.6,-3.4,-3.2,-3,-2.8,-2.6,-2.4,-2.2,-2,-1.8,-1.6],"labelOverlap":false,"labelFlush":false,"labelExpr":"indexof([-5,-4,-3,-2], datum.value) >= 0 ? format(datum.value, 'd') : ''","tickSize":{"condition":{"test":"abs(datum.value-round(datum.value))<0.001","value":-5},"value":-2.5},"labelPadding":8,"title":null}},
"y":{"field":"y","type":"quantitative","scale":{"domain":[-1.1,1.1],"nice":false,"zero":false},"axis":{"values":[-1,-0.9,-0.8,-0.7,-0.6,-0.5,-0.4,-0.3,-0.2,-0.1,0,0.1,0.2,0.3,0.4,0.5,0.6,0.7,0.8,0.9,1],"format":".1f","labelOverlap":false,"labelExpr":"abs(datum.value*2-round(datum.value*2))<0.001 ? datum.label : ''","tickSize":{"condition":{"test":"abs(datum.value*2-round(datum.value*2))<0.001","value":-5},"value":-2.5},"labelPadding":8,"title":null}},
"strokeDash":{"field":"s","type":"nominal","scale":{"domain":["U-1","U-2","U-3","n1","n2","n2.5","n3","n4"],"range":[[2,2.5],[1,0],[6,3.5],[1,0],[1,0],[1,0],[1,0],[1,0]]},"legend":null},
"strokeWidth":{"field":"s","type":"nominal","scale":{"type":"ordinal","domain":["U-1","U-2","U-3","n1","n2","n2.5","n3","n4"],"range":[2,1.8,2,0.8,1.2,1.8,3,5]},"legend":null},
"opacity":{"field":"s","type":"nominal","scale":{"type":"ordinal","domain":["U-1","U-2","U-3","n1","n2","n2.5","n3","n4"],"range":[1,1,1,0.45,0.45,0.45,0.45,0.45]},"legend":null}
},
"layer":[
{"transform":[{"filter":"datum.p==='Hg' && datum.s[0]==='n'"}],"mark":{"type":"line","color":"#b73779","clip":true,"interpolate":"monotone"}},
{"transform":[{"filter":"datum.p==='Hg' && datum.s[0]==='U'"}],"mark":{"type":"line","color":"#b73779","clip":true,"interpolate":"monotone"}}
]},
{"width":142,"height":146,"data":{"name":"d"},"title":{"text":"Hβ","color":"#de4968"},
"encoding":{
"x":{"field":"x","type":"quantitative","scale":{"domain":[-5,-1.55],"nice":false,"zero":false},"axis":{"values":[-5,-4.8,-4.6,-4.4,-4.2,-4,-3.8,-3.6,-3.4,-3.2,-3,-2.8,-2.6,-2.4,-2.2,-2,-1.8,-1.6],"labelOverlap":false,"labelFlush":false,"labelExpr":"indexof([-5,-4,-3,-2], datum.value) >= 0 ? format(datum.value, 'd') : ''","tickSize":{"condition":{"test":"abs(datum.value-round(datum.value))<0.001","value":-5},"value":-2.5},"labelPadding":8,"title":null}},
"y":{"field":"y","type":"quantitative","scale":{"domain":[-1.1,1.1],"nice":false,"zero":false},"axis":{"values":[-1,-0.9,-0.8,-0.7,-0.6,-0.5,-0.4,-0.3,-0.2,-0.1,0,0.1,0.2,0.3,0.4,0.5,0.6,0.7,0.8,0.9,1],"labels":false,"tickSize":{"condition":{"test":"abs(datum.value*2-round(datum.value*2))<0.001","value":-5},"value":-2.5},"title":null}},
"strokeDash":{"field":"s","type":"nominal","scale":{"domain":["U-1","U-2","U-3","n1","n2","n2.5","n3","n4"],"range":[[2,2.5],[1,0],[6,3.5],[1,0],[1,0],[1,0],[1,0],[1,0]]},"legend":null},
"strokeWidth":{"field":"s","type":"nominal","scale":{"type":"ordinal","domain":["U-1","U-2","U-3","n1","n2","n2.5","n3","n4"],"range":[2,1.8,2,0.8,1.2,1.8,3,5]},"legend":null},
"opacity":{"field":"s","type":"nominal","scale":{"type":"ordinal","domain":["U-1","U-2","U-3","n1","n2","n2.5","n3","n4"],"range":[1,1,1,0.45,0.45,0.45,0.45,0.45]},"legend":null}
},
"layer":[
{"transform":[{"filter":"datum.p==='Hb' && datum.s[0]==='n'"}],"mark":{"type":"line","color":"#de4968","clip":true,"interpolate":"monotone"}},
{"transform":[{"filter":"datum.p==='Hb' && datum.s[0]==='U'"}],"mark":{"type":"line","color":"#de4968","clip":true,"interpolate":"monotone"}}
]},
{"width":142,"height":146,"data":{"name":"d"},"title":{"text":"[OIII]4959","color":"#f7705c"},
"encoding":{
"x":{"field":"x","type":"quantitative","scale":{"domain":[-5,-1.55],"nice":false,"zero":false},"axis":{"values":[-5,-4.8,-4.6,-4.4,-4.2,-4,-3.8,-3.6,-3.4,-3.2,-3,-2.8,-2.6,-2.4,-2.2,-2,-1.8,-1.6],"labelOverlap":false,"labelFlush":false,"labelExpr":"indexof([-5,-4,-3,-2], datum.value) >= 0 ? format(datum.value, 'd') : ''","tickSize":{"condition":{"test":"abs(datum.value-round(datum.value))<0.001","value":-5},"value":-2.5},"labelPadding":8,"title":"log₁₀(Z)","titlePadding":14}},
"y":{"field":"y","type":"quantitative","scale":{"domain":[-1.1,1.1],"nice":false,"zero":false},"axis":{"values":[-1,-0.9,-0.8,-0.7,-0.6,-0.5,-0.4,-0.3,-0.2,-0.1,0,0.1,0.2,0.3,0.4,0.5,0.6,0.7,0.8,0.9,1],"labels":false,"tickSize":{"condition":{"test":"abs(datum.value*2-round(datum.value*2))<0.001","value":-5},"value":-2.5},"title":null}},
"strokeDash":{"field":"s","type":"nominal","scale":{"domain":["U-1","U-2","U-3","n1","n2","n2.5","n3","n4"],"range":[[2,2.5],[1,0],[6,3.5],[1,0],[1,0],[1,0],[1,0],[1,0]]},"legend":null},
"strokeWidth":{"field":"s","type":"nominal","scale":{"type":"ordinal","domain":["U-1","U-2","U-3","n1","n2","n2.5","n3","n4"],"range":[2,1.8,2,0.8,1.2,1.8,3,5]},"legend":null},
"opacity":{"field":"s","type":"nominal","scale":{"type":"ordinal","domain":["U-1","U-2","U-3","n1","n2","n2.5","n3","n4"],"range":[1,1,1,0.45,0.45,0.45,0.45,0.45]},"legend":null}
},
"layer":[
{"transform":[{"filter":"datum.p==='O1' && datum.s[0]==='n'"}],"mark":{"type":"line","color":"#f7705c","clip":true,"interpolate":"monotone"}},
{"transform":[{"filter":"datum.p==='O1' && datum.s[0]==='U'"}],"mark":{"type":"line","color":"#f7705c","clip":true,"interpolate":"monotone"}}
]},
{"width":142,"height":146,"data":{"name":"d"},"title":{"text":"[OIII]5007","color":"#fe9f6d"},
"encoding":{
"x":{"field":"x","type":"quantitative","scale":{"domain":[-5,-1.55],"nice":false,"zero":false},"axis":{"values":[-5,-4.8,-4.6,-4.4,-4.2,-4,-3.8,-3.6,-3.4,-3.2,-3,-2.8,-2.6,-2.4,-2.2,-2,-1.8,-1.6],"labelOverlap":false,"labelFlush":false,"labelExpr":"indexof([-5,-4,-3,-2], datum.value) >= 0 ? format(datum.value, 'd') : ''","tickSize":{"condition":{"test":"abs(datum.value-round(datum.value))<0.001","value":-5},"value":-2.5},"labelPadding":8,"title":null}},
"y":{"field":"y","type":"quantitative","scale":{"domain":[-1.1,1.1],"nice":false,"zero":false},"axis":{"values":[-1,-0.9,-0.8,-0.7,-0.6,-0.5,-0.4,-0.3,-0.2,-0.1,0,0.1,0.2,0.3,0.4,0.5,0.6,0.7,0.8,0.9,1],"labels":false,"tickSize":{"condition":{"test":"abs(datum.value*2-round(datum.value*2))<0.001","value":-5},"value":-2.5},"title":null}},
"strokeDash":{"field":"s","type":"nominal","scale":{"domain":["U-1","U-2","U-3","n1","n2","n2.5","n3","n4"],"range":[[2,2.5],[1,0],[6,3.5],[1,0],[1,0],[1,0],[1,0],[1,0]]},"legend":null},
"strokeWidth":{"field":"s","type":"nominal","scale":{"type":"ordinal","domain":["U-1","U-2","U-3","n1","n2","n2.5","n3","n4"],"range":[2,1.8,2,0.8,1.2,1.8,3,5]},"legend":null},
"opacity":{"field":"s","type":"nominal","scale":{"type":"ordinal","domain":["U-1","U-2","U-3","n1","n2","n2.5","n3","n4"],"range":[1,1,1,0.45,0.45,0.45,0.45,0.45]},"legend":null}
},
"layer":[
{"transform":[{"filter":"datum.p==='O2' && datum.s[0]==='n'"}],"mark":{"type":"line","color":"#fe9f6d","clip":true,"interpolate":"monotone"}},
{"transform":[{"filter":"datum.p==='O2' && datum.s[0]==='U'"}],"mark":{"type":"line","color":"#fe9f6d","clip":true,"interpolate":"monotone"}}
]},
{"width":142,"height":146,"data":{"name":"d"},"title":{"text":"Hα","color":"#fecf92"},
"encoding":{
"x":{"field":"x","type":"quantitative","scale":{"domain":[-5,-1.55],"nice":false,"zero":false},"axis":{"values":[-5,-4.8,-4.6,-4.4,-4.2,-4,-3.8,-3.6,-3.4,-3.2,-3,-2.8,-2.6,-2.4,-2.2,-2,-1.8,-1.6],"labelOverlap":false,"labelFlush":false,"labelExpr":"indexof([-5,-4,-3,-2], datum.value) >= 0 ? format(datum.value, 'd') : ''","tickSize":{"condition":{"test":"abs(datum.value-round(datum.value))<0.001","value":-5},"value":-2.5},"labelPadding":8,"title":null}},
"y":{"field":"y","type":"quantitative","scale":{"domain":[-1.1,1.1],"nice":false,"zero":false},"axis":{"values":[-1,-0.9,-0.8,-0.7,-0.6,-0.5,-0.4,-0.3,-0.2,-0.1,0,0.1,0.2,0.3,0.4,0.5,0.6,0.7,0.8,0.9,1],"labels":false,"tickSize":{"condition":{"test":"abs(datum.value*2-round(datum.value*2))<0.001","value":-5},"value":-2.5},"title":null}},
"strokeDash":{"field":"s","type":"nominal","scale":{"domain":["U-1","U-2","U-3","n1","n2","n2.5","n3","n4"],"range":[[2,2.5],[1,0],[6,3.5],[1,0],[1,0],[1,0],[1,0],[1,0]]},"legend":null},
"strokeWidth":{"field":"s","type":"nominal","scale":{"type":"ordinal","domain":["U-1","U-2","U-3","n1","n2","n2.5","n3","n4"],"range":[2,1.8,2,0.8,1.2,1.8,3,5]},"legend":null},
"opacity":{"field":"s","type":"nominal","scale":{"type":"ordinal","domain":["U-1","U-2","U-3","n1","n2","n2.5","n3","n4"],"range":[1,1,1,0.45,0.45,0.45,0.45,0.45]},"legend":null}
},
"layer":[
{"transform":[{"filter":"datum.p==='Ha' && datum.s[0]==='n'"}],"mark":{"type":"line","color":"#fecf92","clip":true,"interpolate":"monotone"}},
{"transform":[{"filter":"datum.p==='Ha' && datum.s[0]==='U'"}],"mark":{"type":"line","color":"#fecf92","clip":true,"interpolate":"monotone"}}
]}
]
}
